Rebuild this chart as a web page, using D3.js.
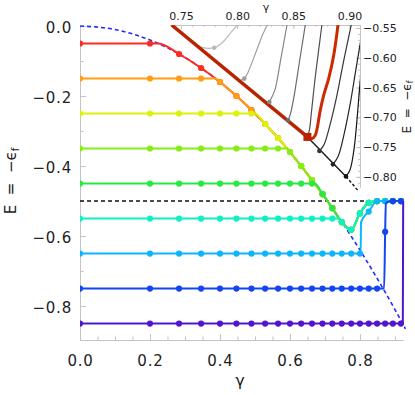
<!DOCTYPE html>
<html>
<head>
<meta charset="utf-8">
<script src="https://cdn.jsdelivr.net/npm/d3@7"></script>
<style>
body { margin: 0; background: white; }
text { font-family: "DejaVu Sans", sans-serif; fill: #222; }
</style>
</head>
<body>
<div id="chart"></div>
<script>
// global sizes
var svgWidth  = 415
var svgHeight = 395

// gamma values of the plotted points (same for every level)
var gammaGrid = [0, 0.2, 0.283, 0.346, 0.4, 0.447, 0.49, 0.529, 0.566, 0.6, 0.632,
                 0.663, 0.693, 0.721, 0.748, 0.775, 0.8, 0.825, 0.849, 0.872, 0.894, 0.917]

// energy of each level at those gammas
var eRed    = [-0.05,-0.05,-0.08,-0.12,-0.16,-0.20,-0.24,-0.28,-0.32,-0.36,-0.40,-0.44,-0.48,-0.52,-0.56,-0.582,-0.535,-0.505,-0.5,-0.5,-0.5,-0.5]
var eOrange = [-0.15,-0.15,-0.15,-0.15,-0.16,-0.20,-0.24,-0.28,-0.32,-0.36,-0.40,-0.44,-0.48,-0.52,-0.56,-0.582,-0.535,-0.505,-0.5,-0.5,-0.5,-0.5]
var eYellow = [-0.25,-0.25,-0.25,-0.25,-0.25,-0.25,-0.25,-0.28,-0.32,-0.36,-0.40,-0.44,-0.48,-0.52,-0.56,-0.582,-0.535,-0.505,-0.5,-0.5,-0.5,-0.5]
var eLime   = [-0.35,-0.35,-0.35,-0.35,-0.35,-0.35,-0.35,-0.35,-0.35,-0.36,-0.40,-0.44,-0.48,-0.52,-0.56,-0.582,-0.535,-0.505,-0.5,-0.5,-0.5,-0.5]
var eGreen  = [-0.45,-0.45,-0.45,-0.45,-0.45,-0.45,-0.45,-0.45,-0.45,-0.45,-0.45,-0.45,-0.48,-0.52,-0.56,-0.582,-0.535,-0.505,-0.5,-0.5,-0.5,-0.5]
var eCyan   = [-0.55,-0.55,-0.55,-0.55,-0.55,-0.55,-0.55,-0.55,-0.55,-0.55,-0.55,-0.55,-0.55,-0.55,-0.56,-0.582,-0.535,-0.505,-0.5,-0.5,-0.5,-0.5]
var eSky    = [-0.65,-0.65,-0.65,-0.65,-0.65,-0.65,-0.65,-0.65,-0.65,-0.65,-0.65,-0.65,-0.65,-0.65,-0.65,-0.65,-0.65,-0.53,-0.5,-0.5,-0.5,-0.5]
var eBlue   = [-0.75,-0.75,-0.75,-0.75,-0.75,-0.75,-0.75,-0.75,-0.75,-0.75,-0.75,-0.75,-0.75,-0.75,-0.75,-0.75,-0.75,-0.75,-0.75,-0.588,-0.5,-0.5]
var eViolet = [-0.85,-0.85,-0.85,-0.85,-0.85,-0.85,-0.85,-0.85,-0.85,-0.85,-0.85,-0.85,-0.85,-0.85,-0.85,-0.85,-0.85,-0.85,-0.85,-0.85,-0.85,-0.85]

// extra line points (where a level leaves its plateau or jumps), no marker there
var knotsRed    = [[0.224,-0.05]]
var knotsOrange = [[0.387,-0.15]]
var knotsYellow = [[0.5,-0.25]]
var knotsLime   = [[0.592,-0.35]]
var knotsGreen  = [[0.671,-0.45]]
var knotsCyan   = [[0.742,-0.55]]
var knotsSky    = [[0.802,-0.65],[0.803,-0.56]]
var knotsBlue   = [[0.869,-0.75],[0.874,-0.505]]
var knotsViolet = [[0.9225,-0.85],[0.9235,-0.5]]

var levelColors = ["#ff2a1f","#ff9c12","#dcf20a","#84ee14","#28e842","#0cf0c4","#0cb6fa","#1246f0","#5214cc"]

// boundary curve (blue dashed)
var boundary = [[0,0],[0.1,-0.01],[0.2,-0.04],[0.3,-0.09],[0.4,-0.16],[0.5,-0.25],
                [0.6,-0.36],[0.7,-0.49],[0.8,-0.64],[0.9,-0.81],[0.93,-0.865]]
var threshold = -0.5

// inset: curves rising from the edge
var inC1 = [[0.7618,-0.5747],[0.7696,-0.5831],[0.7796,-0.5831],[0.7862,-0.5757],[0.7951,-0.5562],[0.8001,-0.545]]
var inC2 = [[0.8034,-0.6372],[0.8063,-0.6351],[0.8099,-0.6233],[0.8174,-0.5869],[0.8232,-0.5589],[0.8268,-0.545]]
var inC3 = [[0.8286,-0.6742],[0.8305,-0.6675],[0.8336,-0.654],[0.839,-0.6003],[0.8443,-0.545]]
var inC4 = [[0.8452,-0.7049],[0.8474,-0.6943],[0.8505,-0.6658],[0.8554,-0.6071],[0.8606,-0.545]]
var inC5 = [[0.8625,-0.7329],[0.8643,-0.7211],[0.8661,-0.6909],[0.8697,-0.6289],[0.8754,-0.545]]
var inC6 = [[0.8732,-0.7564],[0.8772,-0.7463],[0.8826,-0.7128],[0.8879,-0.6708],[0.8946,-0.6071],[0.9015,-0.545]]
var inC7 = [[0.8852,-0.779],[0.8897,-0.7664],[0.895,-0.7295],[0.9004,-0.6792],[0.9053,-0.6238],[0.9093,-0.5785],[0.9119,-0.545]]
var inC8 = [[0.8968,-0.7992],[0.9004,-0.7883],[0.9039,-0.7547],[0.9066,-0.7044],[0.9088,-0.654],[0.911,-0.6071]]
var inGrays = ["#b9b9b9","#a0a0a0","#878787","#6c6c6c","#4e4e4e","#363636","#242424","#141414"]
var inRed = [[0.8625,-0.7329],[0.8665,-0.7357],[0.8695,-0.73],[0.8714,-0.7161],[0.8735,-0.6926],
             [0.877,-0.6629],[0.8814,-0.6351],[0.8859,-0.5958],[0.8897,-0.545]]
var inEdgeThick = [[0.7417,-0.545],[0.8625,-0.7329]]
var inEdgeThin  = [[0.8625,-0.7329],[0.8968,-0.7992]]
var inEdgeDash  = [[0.8968,-0.7992],[0.9075,-0.823]]

// ticks
var xTicks = [0, 0.2, 0.4, 0.6, 0.8]
var yTicks = [0, -0.2, -0.4, -0.6, -0.8]
var inXTicks = [0.75, 0.8, 0.85, 0.9]
var inYTicks = [-0.55, -0.6, -0.65, -0.7, -0.75, -0.8]

// scales
var x = d3.scaleLinear().domain([0, 0.923]).range([80, 403])
var y = d3.scaleLinear().domain([0, -0.897]).range([26, 340])
var xi = d3.scaleLinear().domain([0.7402, 0.9093]).range([170, 360])
var yi = d3.scaleLinear().domain([-0.545, -0.817]).range([25, 187])

var svg = d3.select("#chart")
.append("svg")
.attr("width", svgWidth)
.attr("height", svgHeight)

var defs = svg.append("defs")
defs.append("clipPath").attr("id", "mainClip")
.append("rect").attr("x", 80).attr("y", 18).attr("width", 327).attr("height", 324)
defs.append("clipPath").attr("id", "insetClip")
.append("rect").attr("x", 165).attr("y", 25).attr("width", 195).attr("height", 168)

function styleAxis(g) {
   g.select(".domain").attr("stroke", "#c4c4c4")
   g.selectAll(".tick line").attr("stroke", "#c4c4c4")
   g.selectAll("text").attr("fill", "#222").attr("font-family", "DejaVu Sans")
}

// main axes
var minorX = d3.range(0.05, 0.92, 0.05)
var minorY = [-0.1, -0.3, -0.5, -0.7]

svg.append("g")
.attr("transform", "translate(0,340)")
.call(d3.axisBottom(x).tickValues(minorX).tickFormat("").tickSizeInner(-3.5).tickSizeOuter(0))
.call(styleAxis)
svg.append("g")
.attr("transform", "translate(80,0)")
.call(d3.axisLeft(y).tickValues(minorY).tickFormat("").tickSizeInner(-3.5).tickSizeOuter(0))
.call(styleAxis)

svg.append("g")
.attr("transform", "translate(0,340)")
.call(d3.axisBottom(x).tickValues(xTicks).tickFormat(d3.format(".1f")).tickSizeInner(-6).tickSizeOuter(0).tickPadding(15))
.call(styleAxis)
.selectAll("text").attr("font-size", 15).style("letter-spacing", "0.8px")

svg.append("g")
.attr("transform", "translate(80,0)")
.call(d3.axisLeft(y).tickValues(yTicks).tickFormat(d3.format(".1f")).tickSizeInner(-6).tickSizeOuter(0).tickPadding(8))
.call(styleAxis)
.selectAll("text").attr("font-size", 15).attr("dy", "0.42em").style("letter-spacing", "0.8px")

// axis titles
svg.append("text")
.attr("x", 240).attr("y", 386)
.attr("text-anchor", "middle")
.attr("font-size", 16)
.text("γ")

var yTitle = svg.append("text")
.attr("transform", "translate(16,181) rotate(-90)")
.attr("text-anchor", "middle")
.attr("font-size", 15)
.style("white-space", "pre")
.text("E  =  −ϵ")
yTitle.append("tspan").attr("dy", 3).attr("font-size", 10).text("f")

// main plot
var plot = svg.append("g").attr("clip-path", "url(#mainClip)")

var line = d3.line()
.x(function(d){ return x(d[0]) })
.y(function(d){ return y(d[1]) })
.curve(d3.curveMonotoneX)

// E = -0.5 threshold
plot.append("path")
.datum([[0, threshold], [0.923, threshold]])
.attr("d", line)
.attr("fill", "none")
.attr("stroke", "#111")
.attr("stroke-width", 1.5)
.attr("stroke-dasharray", "4,3")

// boundary
plot.append("path")
.datum(boundary)
.attr("d", line)
.attr("fill", "none")
.attr("stroke", "#1f2cff")
.attr("stroke-width", 1.6)
.attr("stroke-dasharray", "4,3")

var seriesE = [eRed, eOrange, eYellow, eLime, eGreen, eCyan, eSky, eBlue, eViolet]
var seriesKnots = [knotsRed, knotsOrange, knotsYellow, knotsLime, knotsGreen, knotsCyan, knotsSky, knotsBlue, knotsViolet]

seriesE.forEach(function(es, i){
   var pts = gammaGrid.map(function(g, j){ return [g, es[j]] })
   var linePts = pts.concat(seriesKnots[i]).sort(function(a, b){ return a[0] - b[0] })
   plot.append("path")
   .datum(linePts)
   .attr("d", line)
   .attr("fill", "none")
   .attr("stroke", levelColors[i])
   .attr("stroke-width", 2)
   plot.selectAll(".dot" + i)
   .data(pts)
   .enter()
   .append("circle")
   .attr("cx", function(d){ return x(d[0]) })
   .attr("cy", function(d){ return y(d[1]) })
   .attr("r", 3.1)
   .attr("fill", levelColors[i])
})

// inset axes
var inMinorX = d3.range(0.75, 0.905, 0.01)
var inMinorY = d3.range(-0.81, -0.545, 0.01)

svg.append("g")
.attr("transform", "translate(0,25)")
.call(d3.axisTop(xi).tickValues(inMinorX).tickFormat("").tickSizeInner(-2).tickSizeOuter(0))
.call(styleAxis)
svg.append("g")
.attr("transform", "translate(360,0)")
.call(d3.axisRight(yi).tickValues(inMinorY).tickFormat("").tickSizeInner(-2).tickSizeOuter(0))
.call(styleAxis)

svg.append("g")
.attr("transform", "translate(0,25)")
.call(d3.axisTop(xi).tickValues(inXTicks).tickFormat(d3.format(".2f")).tickSizeInner(-4).tickSizeOuter(0).tickPadding(5))
.call(styleAxis)
.selectAll("text").attr("font-size", 11)

svg.append("g")
.attr("transform", "translate(360,0)")
.call(d3.axisRight(yi).tickValues(inYTicks).tickFormat(d3.format(".2f")).tickSizeInner(-4).tickSizeOuter(0).tickPadding(3))
.call(styleAxis)
.selectAll("text").attr("font-size", 11)

svg.append("text")
.attr("x", 266).attr("y", 11)
.attr("text-anchor", "middle")
.attr("font-size", 11)
.text("γ")

var inTitle = svg.append("text")
.attr("transform", "translate(411,107) rotate(-90)")
.attr("text-anchor", "middle")
.attr("font-size", 12)
.style("white-space", "pre")
.text("E  =  −ϵ")
inTitle.append("tspan").attr("dy", 2).attr("font-size", 8).text("f")

// inset curves
var inset = svg.append("g").attr("clip-path", "url(#insetClip)")

var iline = d3.line()
.x(function(d){ return xi(d[0]) })
.y(function(d){ return yi(d[1]) })
.curve(d3.curveCatmullRom.alpha(0.5))

var inCurves = [inC1, inC2, inC3, inC4, inC5, inC6, inC7, inC8]
inCurves.forEach(function(c, i){
   inset.append("path")
   .datum(c)
   .attr("d", iline)
   .attr("fill", "none")
   .attr("stroke", inGrays[i])
   .attr("stroke-width", 1.2)
})

inset.append("path").datum(inEdgeThin).attr("d", iline)
.attr("fill", "none").attr("stroke", "#1a1a1a").attr("stroke-width", 1.4)
inset.append("path").datum(inEdgeDash).attr("d", iline)
.attr("fill", "none").attr("stroke", "#1a1a1a").attr("stroke-width", 1.4).attr("stroke-dasharray", "3,2")
inset.append("path").datum(inEdgeThick).attr("d", iline)
.attr("fill", "none").attr("stroke", "#b82400").attr("stroke-width", 3.5)
inset.append("path").datum(inRed).attr("d", iline)
.attr("fill", "none").attr("stroke", "#cc2a00").attr("stroke-width", 3)

// dots where the curves start
var inDots = [inC1[2], inC2[1], inC3[0], inC4[0], inC6[0], inC7[0], inC8[0]]
var inDotColors = [inGrays[0], inGrays[1], inGrays[2], inGrays[3], inGrays[5], inGrays[6], inGrays[7]]
inset.selectAll(".idot")
.data(inDots)
.enter()
.append("circle")
.attr("cx", function(d){ return xi(d[0]) })
.attr("cy", function(d){ return yi(d[1]) })
.attr("r", 2.3)
.attr("fill", function(d, i){ return inDotColors[i] })

inset.append("rect")
.datum(inRed[0])
.attr("x", function(d){ return xi(d[0]) - 4 })
.attr("y", function(d){ return yi(d[1]) - 4 })
.attr("width", 8)
.attr("height", 8)
.attr("fill", "#b82400")
</script>
</body>
</html>
